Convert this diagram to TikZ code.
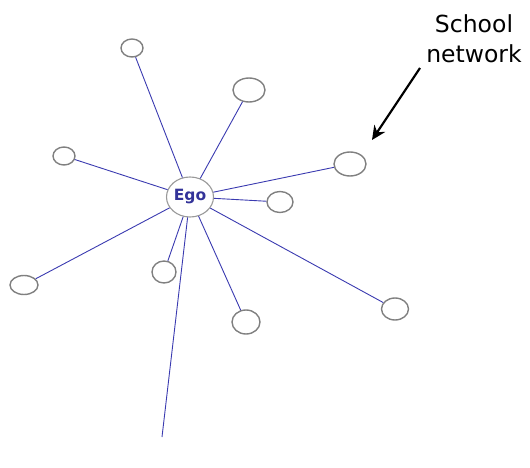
\documentclass[tikz,border=0pt]{standalone}
\usepackage{fontspec}
\setmainfont{DejaVu Sans}
\usetikzlibrary{shapes.geometric,arrows.meta}
\definecolor{edgeblue}{HTML}{3A3AB0}
\definecolor{egoblue}{HTML}{333399}
\definecolor{circgray}{HTML}{808080}
\tikzset{
  alter/.style={ellipse, draw=circgray, line width=1.4pt, inner sep=0pt},
  tie/.style={draw=edgeblue, line width=0.9pt},
  lbl/.style={font=\fontsize{23.5}{30}\selectfont, align=center, text=black}
}
\begin{document}
\begin{tikzpicture}[x=1pt,y=-1pt]
\useasboundingbox (0,0) rectangle (530,468);
\node[alter, minimum width=47pt, minimum height=40pt, draw=circgray!80, line width=1.1pt,
      font=\fontsize{15.5}{18}\selectfont\bfseries, text=egoblue] (ego) at (190,197) {Ego};
\node[alter, minimum width=22pt, minimum height=18pt] (a1) at (132,48) {};
\node[alter, minimum width=32pt, minimum height=24pt] (a2) at (249,90) {};
\node[alter, minimum width=22pt, minimum height=18pt] (a3) at (64,156) {};
\node[alter, minimum width=32pt, minimum height=24pt] (a4) at (350,164) {};
\node[alter, minimum width=26pt, minimum height=21pt] (a5) at (280,202) {};
\node[alter, minimum width=28pt, minimum height=19pt] (a6) at (24,285) {};
\node[alter, minimum width=24pt, minimum height=22pt] (a7) at (164,272) {};
\node[alter, minimum width=28pt, minimum height=24pt] (a8) at (246,322) {};
\node[alter, minimum width=27pt, minimum height=22pt] (a9) at (395,309) {};
\coordinate (free) at (162,437);
\foreach \n in {a1,a2,a3,a4,a5,a6,a7,a8,a9} \draw[tie] (ego) -- (\n);
\draw[tie] (ego) -- (free);
\node[lbl] (school) at (474,39) {School\\network};
\coordinate (arrstart) at (420,68);
\coordinate (arrend) at (372,140);
\draw[line width=2.2pt, -{Stealth[length=14pt,width=13pt]}] (arrstart) -- (arrend);
\end{tikzpicture}
\end{document}
